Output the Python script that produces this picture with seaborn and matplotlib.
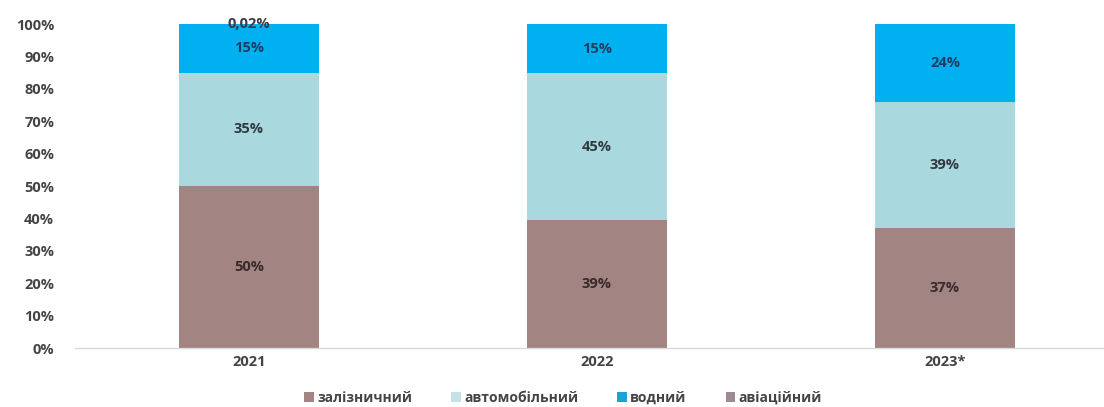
import numpy as np
import pandas as pd
import matplotlib
matplotlib.use("Agg")
import matplotlib.pyplot as plt
import seaborn as sns
from matplotlib.patches import Patch

# Structure of freight transport by mode, share of total (%)
years = ["2021", "2022", "2023*"]
zaliznychnyi = [50, 39, 37]        # rail
avtomobilnyi = [35, 45, 39]        # road
vodnyi = [15, 15, 24]              # water
aviatsiinyi = [0.02, 0, 0]         # air

series_names = ["залізничний", "автомобільний", "водний", "авіаційний"]
series_colors = ["#a28482", "#a9d8de", "#00b0f0", "#9d8a94"]
label_colors = ["#3a2a2c", "#2f3a40", "#1d3f63", "#3a3a48"]

sns.set_theme(style="white")
plt.rcParams["font.family"] = ["Open Sans", "DejaVu Sans"]

values = np.array([zaliznychnyi, avtomobilnyi, vodnyi, aviatsiinyi], dtype=float)
shares = values / values.sum(axis=0) * 100  # 100% stacked
cum = np.cumsum(shares, axis=0)

fig = plt.figure(figsize=(11.04, 4.07), dpi=100)
ax = fig.add_axes([75 / 1104, 59 / 407, 1029 / 1104, 324 / 407])

# Draw stacks from the top down so each lower layer covers the one above
for i in range(len(series_names) - 1, -1, -1):
    df = pd.DataFrame({"year": years, "value": cum[i]})
    sns.barplot(data=df, x="year", y="value", color=series_colors[i],
                width=0.40, saturation=1, ax=ax, linewidth=0)

# Segment labels
for j in range(len(years)):
    for i in range(len(series_names)):
        v = values[i, j]
        if v <= 0:
            continue
        if v < 1:
            y = cum[i, j]
            txt = f"{v:.2f}%".replace(".", ",")
        else:
            y = cum[i, j] - shares[i, j] / 2
            txt = f"{v:.0f}%"
        ax.text(j, y, txt, ha="center", va="center", fontsize=10.5,
                fontweight="bold", color=label_colors[i])

ax.set_ylim(0, 100)
ax.set_xlim(-0.5, -0.5 + 1029 / 348)
ax.set_yticks(np.arange(0, 101, 10))
ax.set_yticklabels([f"{t}%" for t in range(0, 101, 10)])
ax.set_xlabel("")
ax.set_ylabel("")
ax.tick_params(axis="y", length=0, pad=15, labelsize=10.5, labelcolor="#444444")
ax.tick_params(axis="x", length=0, pad=5, labelsize=10.5, labelcolor="#444444")
for lab in ax.get_yticklabels() + ax.get_xticklabels():
    lab.set_fontweight("bold")

for s in ["top", "right", "left"]:
    ax.spines[s].set_visible(False)
ax.spines["bottom"].set_color("#d9d9d9")
ax.spines["bottom"].set_linewidth(1.0)

handles = [Patch(facecolor=c, edgecolor="none") for c in
           ["#a28482", "#c4e2e6", "#1aa6cc", "#9d8a94"]]
leg = fig.legend(handles, series_names, loc="center", bbox_to_anchor=(0.51, 9 / 407),
                 ncol=4, frameon=False, fontsize=10, handlelength=0.7,
                 handleheight=0.7, handletextpad=0.25, columnspacing=2.8)
for t in leg.get_texts():
    t.set_color("#444444")
    t.set_fontweight("bold")

fig.savefig("out.png", dpi=100, facecolor="white")
